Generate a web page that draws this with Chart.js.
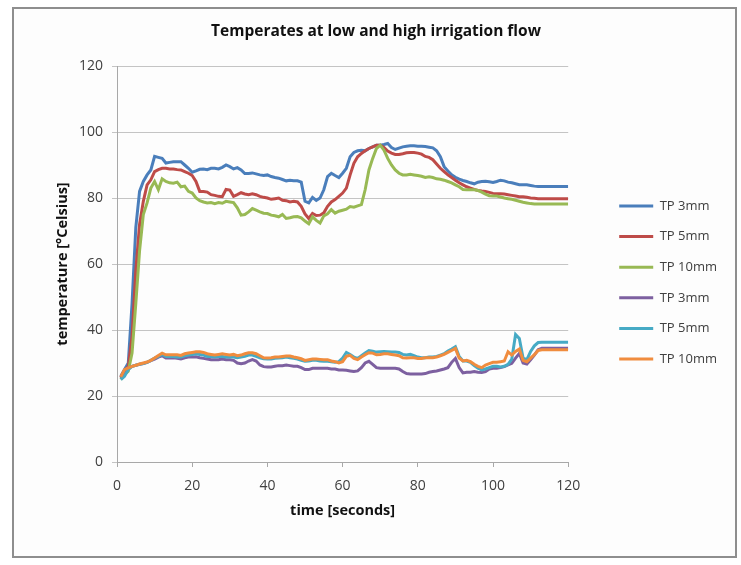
<!DOCTYPE html>
<html><head><meta charset="utf-8">
<script src="https://cdn.jsdelivr.net/npm/chart.js@4"></script>
<style>
html,body{margin:0;padding:0;background:#fff;}
#frame{position:absolute;left:12px;top:7px;width:725px;height:551px;box-sizing:border-box;border:2px solid #8e8e8e;background:#fdfdfd;}
#c{position:absolute;left:0;top:0;}
</style></head><body>
<div id="frame"></div>
<canvas id="c" width="741" height="565"></canvas>
<script>
const time = [1,2,3,4,5,6,7,8,9,10,11,12,13,14,15,16,17,18,19,20,21,22,23,24,25,26,27,28,29,30,31,32,33,34,35,36,37,38,39,40,41,42,43,44,45,46,47,48,49,50,51,52,53,54,55,56,57,58,59,60,61,62,63,64,65,66,67,68,69,70,71,72,73,74,75,76,77,78,79,80,81,82,83,84,85,86,87,88,89,90,91,92,93,94,95,96,97,98,99,100,101,102,103,104,105,106,107,108,109,110,111,112,113,114,115,116,117,118,119,120];

const highTP3 = [26,28,30,48,71,82,85,87,88.5,92.6,
 92.3,92,90.6,90.8,91,91,91,90,89,87.8,
 88.2,88.7,88.8,88.6,89,89,88.8,89.3,90,89.5,
 88.8,89.2,88.5,87.4,87.4,87.6,87.3,87,86.8,87,
 86.5,86.2,86,85.6,85.2,85.4,85.2,85.2,84.8,79,
 78.5,80.2,79.3,80,82.5,86.5,87.5,86.8,86.2,87.5,
 89,92.5,93.8,94.3,94.5,94.3,95,95.5,96,96,
 96.2,96.5,95.3,94.7,95.1,95.5,95.7,95.8,95.8,95.7,
 95.7,95.6,95.4,95.2,94.3,92.5,89.5,88.2,87,86.3,
 85.7,85.3,85,84.6,84.3,84.8,85,85.1,84.9,84.7,
 85,85.4,85.2,84.8,84.6,84.3,84,84,84,83.8,
 83.6,83.5,83.5,83.5,83.5,83.5,83.5,83.5,83.5,83.5];

const highTP5 = [25.5,27.5,29,38,58,72,79,84,85.5,88,
 88.6,89,89,88.8,88.8,88.6,88.5,88,87.5,86.8,
 85,82,82,81.8,81,80.8,80.5,80.4,82.6,82.4,
 80.5,81,81.6,81.2,81,81.3,81,80.5,80.2,80,
 79.6,79.8,80,79.3,79.2,78.8,79,78.8,77.5,75.2,
 73.8,75.3,74.7,74.8,75.5,77.5,78.8,79.5,80.5,81.5,
 83,87,90.5,92.5,93.5,94.3,95,95.5,96,96,
 95.3,94.2,93.6,93.2,93.2,93.4,93.7,93.8,93.8,93.6,
 93.3,92.6,92.3,91.6,90.3,89,88,87,86.2,85.4,
 84.6,84,83.4,83,82.6,82.3,82.1,82,81.7,81.4,
 81.3,81.3,81.2,81,80.8,80.6,80.4,80.4,80.2,80,
 79.9,79.8,79.8,79.8,79.8,79.8,79.8,79.8,79.8,79.8];

const highTP10 = [25,26.5,27.5,33,48,64,75,78.5,83,85,
 82.5,85.8,85,84.6,84.5,84.8,83.4,83.6,82,81.5,
 80,79.2,78.8,78.5,78.6,78.3,78.6,78.4,79,78.8,
 78.6,77,74.8,75,75.8,76.8,76.3,75.8,75.4,75.3,
 74.8,74.6,74.3,75,73.8,74,74.3,74.4,74,73,
 72.2,74.3,73.2,72.4,74.6,75.2,76.5,75.4,76,76.3,
 76.6,77.4,77.2,77.6,78,82.5,88.5,92,95,96,
 94.5,92,90,88.5,87.5,87,87,87.2,87,86.8,
 86.6,86.2,86.4,86.2,85.8,85.7,85.4,85,84.6,84,
 83.4,82.6,82.5,82.5,82.5,82.3,81.8,81.2,80.7,80.6,
 80.6,80.3,80,79.8,79.6,79.3,79,78.7,78.5,78.3,
 78.2,78.2,78.2,78.2,78.2,78.2,78.2,78.2,78.2,78.2];

const lowTP3 = [25.5,27.5,28.5,29,29.3,29.6,29.8,30.2,30.7,31.2,
 31.8,32.2,31.5,31.5,31.6,31.4,31.2,31.6,31.8,31.8,
 31.9,31.6,31.4,31.2,31,31,31,31.2,31,31,
 30.8,30,29.8,30,30.6,31,30.6,29.4,28.9,28.8,
 28.8,29,29.2,29.2,29.4,29.2,29,29,28.6,28,
 28,28.4,28.4,28.4,28.4,28.4,28.2,28.2,27.9,27.9,
 27.8,27.6,27.4,27.6,28.6,30,30.5,29.6,28.6,28.4,
 28.4,28.4,28.4,28.4,28.2,27.4,26.8,26.7,26.7,26.7,
 26.7,26.8,27.2,27.4,27.6,27.9,28.2,28.6,30.2,31.4,
 28.6,27,27.2,27.2,27.4,27.2,27.1,27.4,28.2,28.4,
 28.4,28.6,28.9,29.4,29.9,31.5,32.9,30,29.7,31,
 32.4,34,34.5,34.5,34.5,34.5,34.5,34.5,34.5,34.5];

const lowTP5 = [25,26,28,29,29.3,29.6,29.8,30.2,30.8,31.5,
 32,32.6,32,32,32,31.8,31.8,32.2,32.4,32.6,
 32.8,32.6,32.4,32,32,31.8,32,32,31.8,31.9,
 31.8,31.6,31.8,32,32.4,32.4,32,31.6,31.3,31.2,
 31.2,31.4,31.5,31.6,31.8,31.6,31.4,31.2,30.8,30.5,
 30.6,30.8,30.8,30.6,30.5,30.5,30.4,30.2,30.4,31.5,
 33.2,32.6,31.8,31.4,32.2,33,33.8,33.6,33.3,33.4,
 33.5,33.4,33.3,33.3,33.2,32.6,32.4,32.6,32.2,31.8,
 31.6,31.6,31.8,31.8,32,32.4,32.8,33.6,34.2,34.9,
 32,30.6,30.6,30.2,29.2,28.4,27.9,28.2,28.6,29,
 29,28.8,29,29.6,31.2,38.6,37.4,31.5,31,33.5,
 35.2,36.2,36.3,36.3,36.3,36.3,36.3,36.3,36.3,36.3];

const lowTP10 = [25.8,28,28.5,29,29.3,29.7,30,30.3,30.8,31.5,
 32.3,33,32.5,32.5,32.5,32.5,32.3,32.8,33,33.2,
 33.4,33.4,33.2,32.8,32.6,32.4,32.6,32.8,32.6,32.4,
 32.6,32.2,32.4,32.8,33.1,33.1,32.8,32.2,31.6,31.5,
 31.6,31.8,31.8,32,32.1,32.1,31.8,31.6,31.3,30.8,
 31,31.2,31.2,31.1,31,31,30.6,30.4,30,30.4,
 32,32.3,31.4,31,31.8,32.5,33.1,33,32.5,32.6,
 32.8,32.8,32.6,32.4,32.2,31.6,31.5,31.6,31.6,31.4,
 31.4,31.6,31.6,31.6,31.8,32.2,32.6,33.2,33.8,34.4,
 31.5,30.6,30.8,30.4,29.6,29,28.6,29.4,29.8,30.2,
 30.2,30.4,30.6,33.4,32.4,33.5,34.2,30.8,30.4,31.5,
 32.5,33.8,34,34,34,34,34,34,34,34];

const seriesLabels = ['TP 3mm','TP 5mm','TP 10mm','TP 3mm','TP 5mm','TP 10mm'];
const seriesValues = [highTP3, highTP5, highTP10, lowTP3, lowTP5, lowTP10];
const seriesColors = ['#4A7EBB','#BE4B48','#98B954','#7D60A0','#46AAC5','#F08C3E'];
const xTicks = [0,20,40,60,80,100,120];
const yTicks = [0,20,40,60,80,100,120];

const tickFont = {family:'Open Sans', size:14};
const axisTitleFont = {family:'Open Sans', size:14.5, weight:'bold'};

new Chart(document.getElementById('c'), {
  type: 'line',
  data: {
    datasets: seriesValues.map((vals, i) => ({
      label: seriesLabels[i],
      data: time.map((t, j) => ({x: t, y: vals[j]})),
      borderColor: seriesColors[i],
      backgroundColor: seriesColors[i],
      borderWidth: 3,
      pointRadius: 0,
      tension: 0,
      fill: false,
      order: seriesValues.length - i
    }))
  },
  options: {
    responsive: false,
    animation: false,
    layout: {padding: {left: 25, right: 14, top: 10, bottom: 10}},
    plugins: {
      title: {
        display: true,
        text: 'Temperates at low and high irrigation flow',
        font: {family: 'Open Sans', size: 15.5, weight: 'bold'},
        color: '#111',
        padding: {top: 12.7, bottom: 24.7}
      },
      legend: {
        position: 'right',
        align: 'center',
        maxWidth: 300,
        labels: {
          boxWidth: 34,
          boxHeight: 3,
          padding: 17.6,
          color: '#404040',
          font: {family: 'Open Sans', size: 13},
          generateLabels(chart) {
            return Chart.defaults.plugins.legend.labels.generateLabels(chart)
              .sort((a, b) => a.datasetIndex - b.datasetIndex)
              .map(it => Object.assign(it, {lineWidth: 0, fillStyle: seriesColors[it.datasetIndex], strokeStyle: 'rgba(0,0,0,0)'}));
          }
        }
      },
      tooltip: {enabled: false}
    },
    scales: {
      x: {
        type: 'linear',
        min: 0, max: 120,
        afterBuildTicks(s) { s.ticks = xTicks.map(v => ({value: v})); },
        afterFit(s) { s.height = 93; },
        grid: {display: true, drawOnChartArea: false, drawTicks: true, tickLength: 5, color: '#a8a8a8'},
        border: {color: '#a8a8a8', width: 1},
        ticks: {padding: 11, font: tickFont, color: '#404040', maxRotation: 0, autoSkip: false},
        title: {display: true, text: 'time [seconds]', font: axisTitleFont, color: '#111', padding: {top: 0, bottom: 35.3}}
      },
      y: {
        type: 'linear',
        min: 0, max: 120,
        afterBuildTicks(s) { s.ticks = yTicks.map(v => ({value: v})); },
        afterFit(s) { s.width = 92; },
        grid: {color: '#c4c4c4', tickLength: 5, drawTicks: true},
        border: {color: '#a8a8a8', width: 1},
        ticks: {padding: 9, font: tickFont, color: '#404040'},
        title: {display: true, text: 'temperature [°Celsius]', font: axisTitleFont, color: '#111', padding: {top: 29.3, bottom: 0}}
      },
      spacer: {
        type: 'linear',
        position: 'right',
        display: true,
        grid: {display: false},
        ticks: {display: false},
        border: {display: false},
        afterFit(s) { s.width = 33.4; }
      }
    }
  }
});
</script>
</body></html>
